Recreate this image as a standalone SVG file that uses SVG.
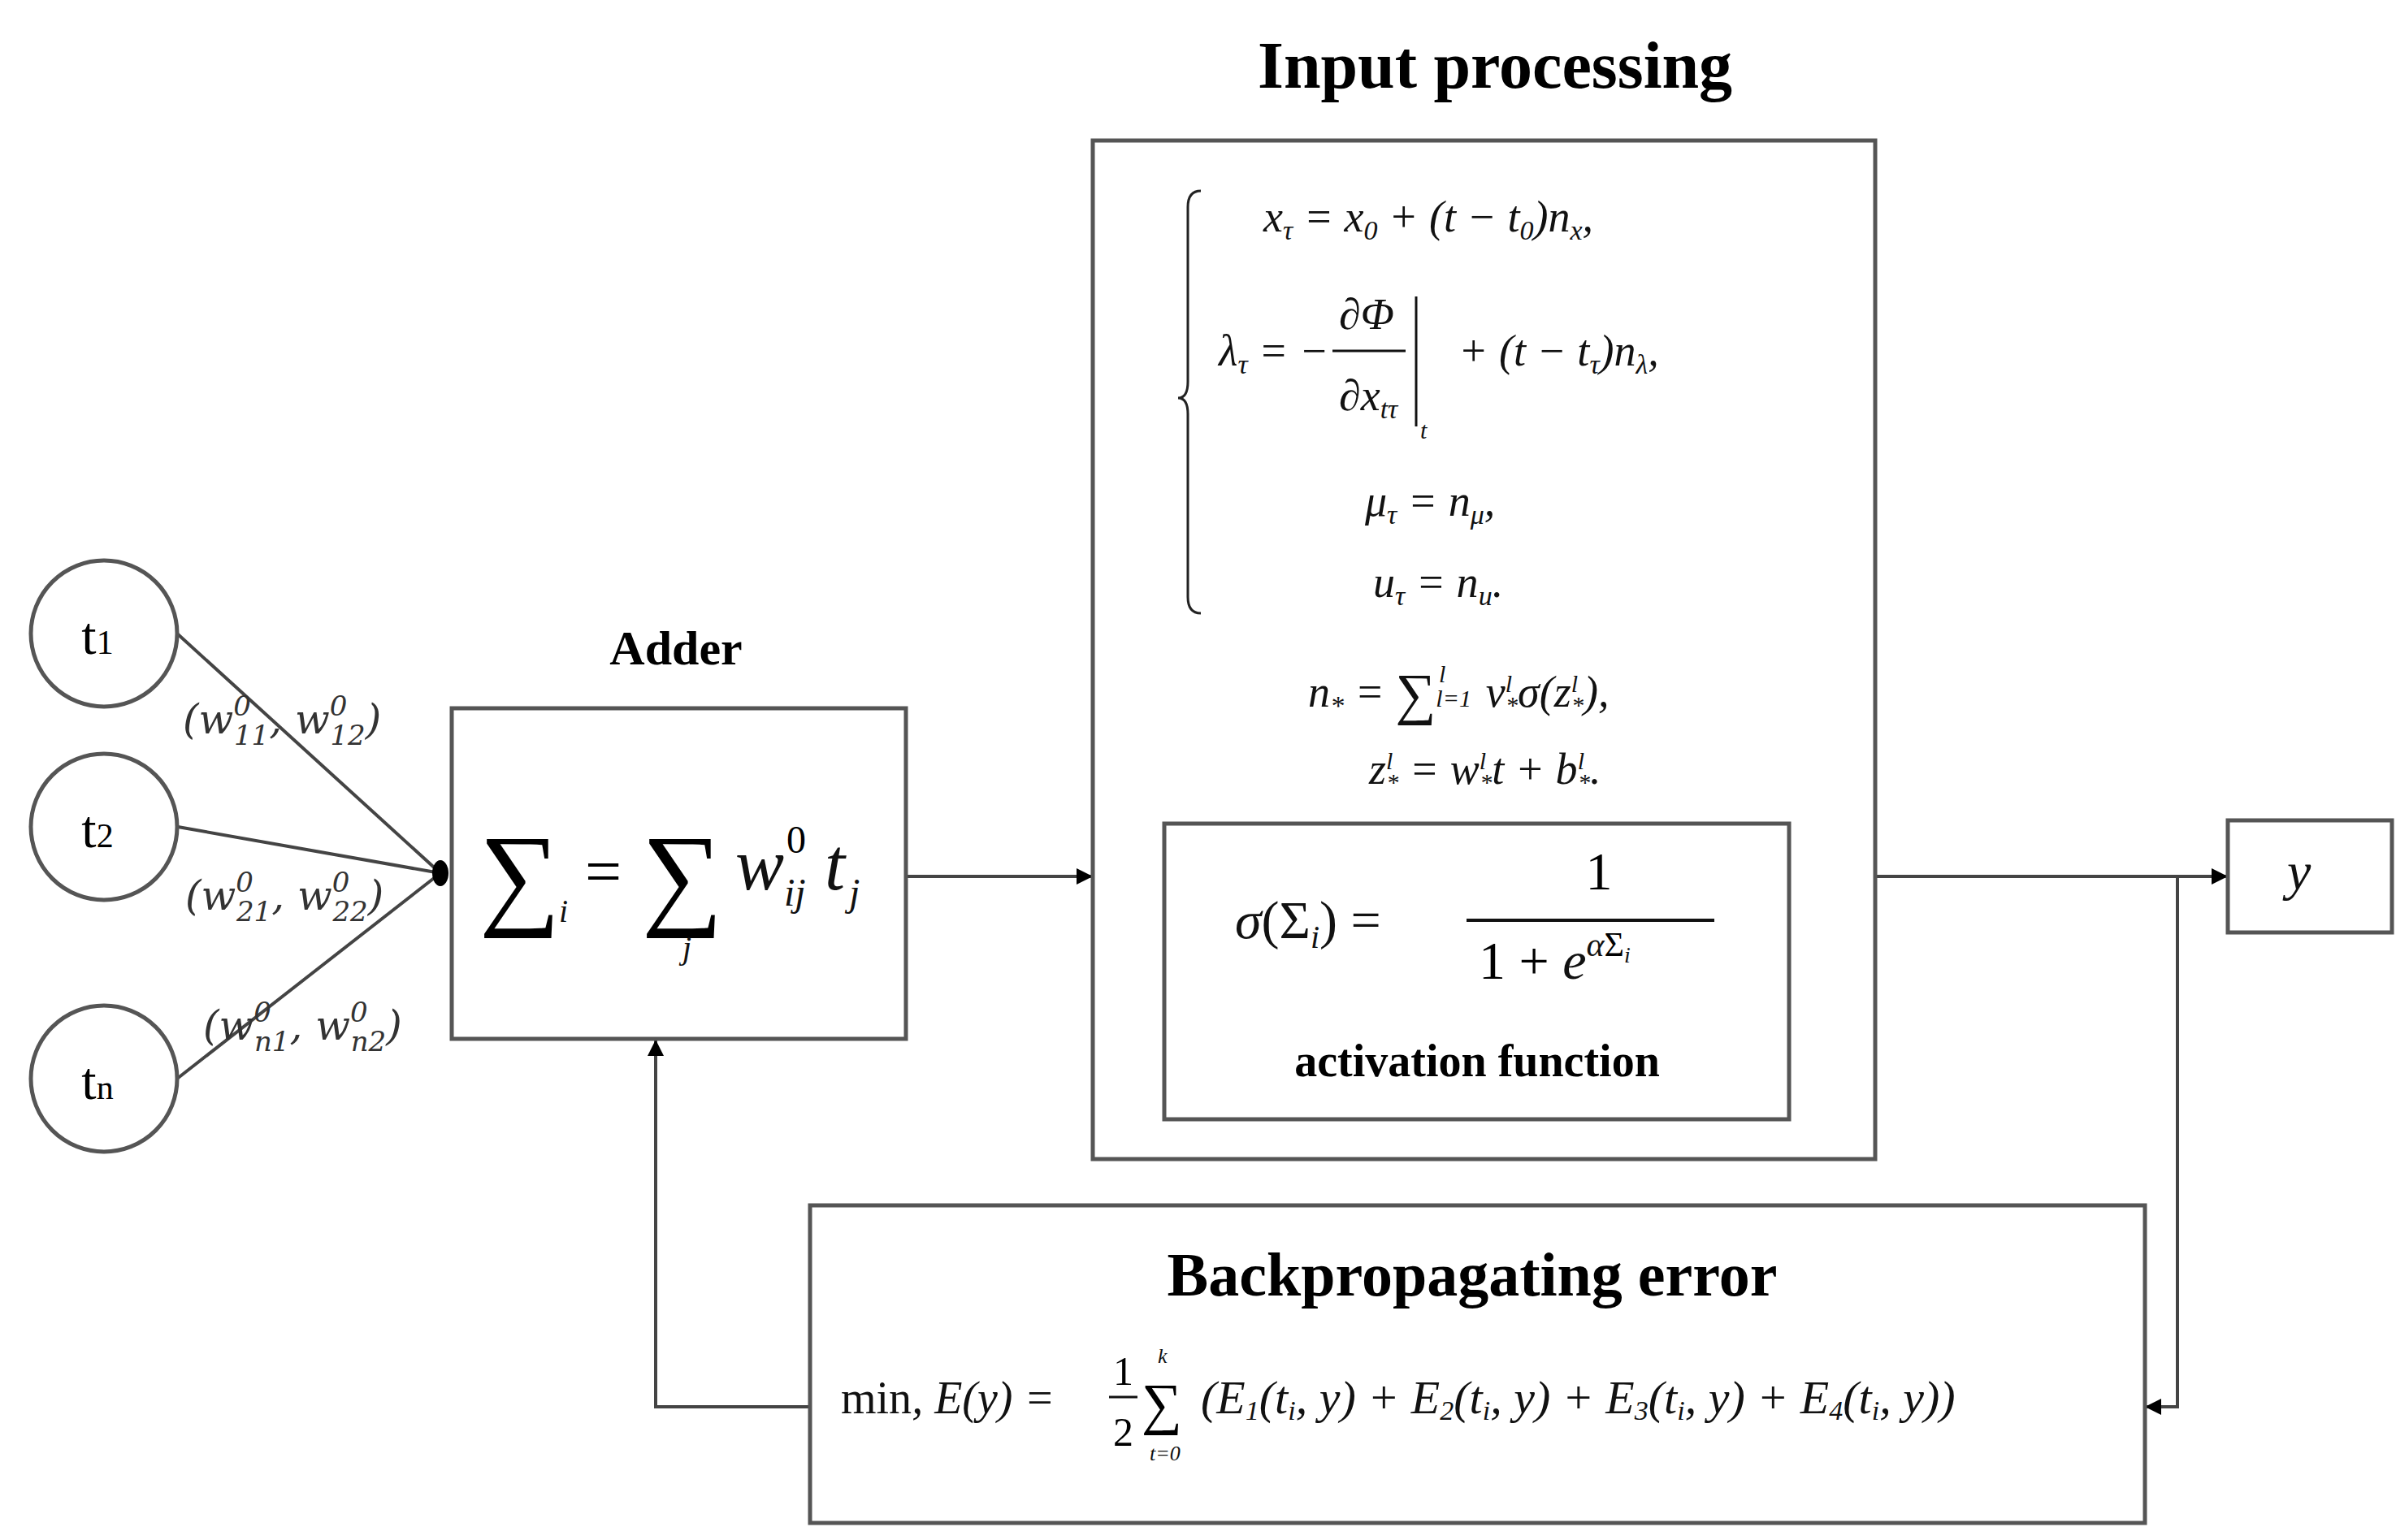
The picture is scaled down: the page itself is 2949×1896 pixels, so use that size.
<svg xmlns="http://www.w3.org/2000/svg" width="2949" height="1896" viewBox="0 0 2949 1896">
<style>
.b{fill:#fff;stroke:#555;stroke-width:5}
.c{fill:none;stroke:#444;stroke-width:4}
.t{font-family:"Liberation Serif",serif;fill:#000}
.bd{font-weight:bold}
.m{font-family:"Liberation Serif",serif;font-style:italic;fill:#111}
.w{font-family:"DejaVu Serif",serif;font-style:italic;fill:#333}
</style>
<defs><marker id="a" viewBox="0 0 10 10" refX="10" refY="5" markerWidth="26" markerHeight="20" orient="auto" markerUnits="userSpaceOnUse"><path d="M0,0L10,5L0,10z" fill="#000"/></marker></defs>
<rect width="2949" height="1896" fill="#fff"/>
<g id="connectors">
<line class="c" x1="218" y1="780" x2="542" y2="1075"/>
<line class="c" x1="219" y1="1018" x2="542" y2="1075"/>
<line class="c" x1="218" y1="1328" x2="542" y2="1075"/>
<ellipse cx="542" cy="1075" rx="10" ry="16" fill="#000"/>
<path class="c" d="M1115,1079H1345" marker-end="url(#a)"/>
<path class="c" d="M2308,1079H2742" marker-end="url(#a)"/>
<path class="c" d="M2680,1079V1732H2640" marker-end="url(#a)"/>
<path class="c" d="M997,1732H807V1280" marker-end="url(#a)"/>
</g>
<g id="t1"><circle class="b" cx="128" cy="780" r="90" stroke-width="4"/><text class="t" x="120" y="805" font-size="66" text-anchor="middle">t<tspan font-size="42">1</tspan></text></g>
<g id="t2"><circle class="b" cx="128" cy="1018" r="90" stroke-width="4"/><text class="t" x="120" y="1043" font-size="66" text-anchor="middle">t<tspan font-size="42">2</tspan></text></g>
<g id="tn"><circle class="b" cx="128" cy="1328" r="90" stroke-width="4"/><text class="t" x="120" y="1353" font-size="66" text-anchor="middle">t<tspan font-size="42">n</tspan></text></g>
<g id="weights" class="w" font-size="50">
<text x="225" y="903">(w<tspan font-size="34" dy="-22">0</tspan><tspan font-size="34" dx="-21" dy="36">11</tspan><tspan dy="-14">, w</tspan><tspan font-size="34" dy="-22">0</tspan><tspan font-size="34" dx="-21" dy="36">12</tspan><tspan dy="-14">)</tspan></text>
<text x="228" y="1120">(w<tspan font-size="34" dy="-22">0</tspan><tspan font-size="34" dx="-21" dy="36">21</tspan><tspan dy="-14">, w</tspan><tspan font-size="34" dy="-22">0</tspan><tspan font-size="34" dx="-21" dy="36">22</tspan><tspan dy="-14">)</tspan></text>
<text x="250" y="1280">(w<tspan font-size="34" dy="-22">0</tspan><tspan font-size="34" dx="-21" dy="36">n1</tspan><tspan dy="-14">, w</tspan><tspan font-size="34" dy="-22">0</tspan><tspan font-size="34" dx="-21" dy="36">n2</tspan><tspan dy="-14">)</tspan></text>
</g>
<g id="adder">
<text class="t bd" x="832" y="818" font-size="60" text-anchor="middle">Adder</text>
<rect class="b" x="556" y="872" width="559" height="407"/>
<text class="t" x="590" y="1125" font-size="140">∑</text>
<text class="m" x="688" y="1135" font-size="40">i</text>
<text class="t" x="720" y="1100" font-size="80">=</text>
<text class="t" x="790" y="1125" font-size="140">∑</text>
<text class="m" x="840" y="1180" font-size="40">j</text>
<text class="m" x="905" y="1095" font-size="90">w</text>
<text class="t" x="968" y="1050" font-size="48">0</text>
<text class="m" x="965" y="1115" font-size="48">ij</text>
<text class="m" x="1015" y="1095" font-size="90">t</text>
<text class="m" x="1045" y="1115" font-size="48">j</text>
</g>
<g id="input">
<text class="t bd" x="1840" y="108" font-size="82" text-anchor="middle">Input processing</text>
<rect class="b" x="1345" y="173" width="963" height="1254"/>
<path d="M1478,235Q1462,235 1462,255V470Q1462,490 1450,490Q1462,490 1462,510V735Q1462,755 1478,755" fill="none" stroke="#222" stroke-width="3"/>
<g class="m" font-size="54">
<text x="1555" y="285">x<tspan font-size="34" dy="10">τ</tspan><tspan dy="-10"> = x</tspan><tspan font-size="34" dy="10">0</tspan><tspan dy="-10"> + (t − t</tspan><tspan font-size="34" dy="10">0</tspan><tspan dy="-10">)n</tspan><tspan font-size="34" dy="10">x</tspan><tspan dy="-10">,</tspan></text>
<text x="1500" y="450">λ<tspan font-size="34" dy="10">τ</tspan><tspan dy="-10"> = −</tspan></text>
<text x="1648" y="405">∂Φ</text>
<line x1="1640" y1="432" x2="1730" y2="432" stroke="#111" stroke-width="3"/>
<text x="1648" y="505">∂x<tspan font-size="34" dy="10">tτ</tspan></text>
<line x1="1743" y1="365" x2="1743" y2="525" stroke="#111" stroke-width="3"/>
<text x="1748" y="540" font-size="30">t</text>
<text x="1795" y="450">+ (t − t<tspan font-size="34" dy="10">τ</tspan><tspan dy="-10">)n</tspan><tspan font-size="34" dy="10">λ</tspan><tspan dy="-10">,</tspan></text>
<text x="1680" y="635">μ<tspan font-size="34" dy="10">τ</tspan><tspan dy="-10"> = n</tspan><tspan font-size="34" dy="10">μ</tspan><tspan dy="-10">,</tspan></text>
<text x="1690" y="735">u<tspan font-size="34" dy="10">τ</tspan><tspan dy="-10"> = n</tspan><tspan font-size="34" dy="10">u</tspan><tspan dy="-10">.</tspan></text>
<text x="1610" y="870">n<tspan font-size="34" dy="10">*</tspan><tspan dy="-10"> = </tspan><tspan font-style="normal" font-size="70" dy="8">∑</tspan><tspan font-size="30" dy="-8">l=1</tspan><tspan font-size="30" dx="-40" dy="-30">l</tspan><tspan dx="36" dy="30"> v</tspan><tspan font-size="30" dy="-18">l</tspan><tspan font-size="30" dx="-8" dy="26">*</tspan><tspan dy="-8">σ(z</tspan><tspan font-size="30" dy="-18">l</tspan><tspan font-size="30" dx="-8" dy="26">*</tspan><tspan dy="-8">),</tspan></text>
<text x="1685" y="965">z<tspan font-size="30" dy="-18">l</tspan><tspan font-size="30" dx="-8" dy="26">*</tspan><tspan dy="-8"> = w</tspan><tspan font-size="30" dy="-18">l</tspan><tspan font-size="30" dx="-8" dy="26">*</tspan><tspan dy="-8">t + b</tspan><tspan font-size="30" dy="-18">l</tspan><tspan font-size="30" dx="-8" dy="26">*</tspan><tspan dy="-8">.</tspan></text>
</g>
</g>
<g id="activation">
<rect class="b" x="1433" y="1014" width="769" height="364"/>
<text class="m" x="1520" y="1155" font-size="66">σ<tspan font-style="normal">(Σ</tspan><tspan font-size="40" dy="12">i</tspan><tspan font-style="normal" dy="-12">) =</tspan></text>
<text class="t" x="1968" y="1095" font-size="66" text-anchor="middle">1</text>
<line x1="1805" y1="1133" x2="2110" y2="1133" stroke="#111" stroke-width="4"/>
<text class="t" x="1820" y="1205" font-size="66">1 + <tspan class="m">e</tspan><tspan class="m" font-size="42" dy="-28">α</tspan><tspan font-size="42">Σ</tspan><tspan class="m" font-size="28" dy="8">i</tspan></text>
<text class="t bd" x="1818" y="1325" font-size="56" text-anchor="middle">activation function</text>
</g>
<g id="y"><rect class="b" x="2742" y="1010" width="202" height="138"/><text class="m" x="2815" y="1095" font-size="66">y</text></g>
<g id="backprop">
<rect class="b" x="997" y="1484" width="1643" height="391"/>
<text class="t bd" x="1812" y="1595" font-size="76" text-anchor="middle">Backpropagating error</text>
<text class="m" x="1035" y="1740" font-size="56"><tspan font-style="normal">min</tspan>, E(y) =</text>
<text class="t" x="1370" y="1705" font-size="50">1</text>
<line x1="1365" y1="1720" x2="1400" y2="1720" stroke="#111" stroke-width="3"/>
<text class="t" x="1370" y="1780" font-size="50">2</text>
<text class="t" x="1405" y="1752" font-size="70">∑</text>
<text class="m" x="1425" y="1678" font-size="26">k</text>
<text class="m" x="1415" y="1798" font-size="26">t=0</text>
<text class="m" x="1478" y="1740" font-size="58">(E<tspan font-size="34" dy="8">1</tspan><tspan dy="-8">(t</tspan><tspan font-size="34" dy="8">i</tspan><tspan dy="-8">, y) + E</tspan><tspan font-size="34" dy="8">2</tspan><tspan dy="-8">(t</tspan><tspan font-size="34" dy="8">i</tspan><tspan dy="-8">, y) + E</tspan><tspan font-size="34" dy="8">3</tspan><tspan dy="-8">(t</tspan><tspan font-size="34" dy="8">i</tspan><tspan dy="-8">, y) + E</tspan><tspan font-size="34" dy="8">4</tspan><tspan dy="-8">(t</tspan><tspan font-size="34" dy="8">i</tspan><tspan dy="-8">, y))</tspan></text>
</g>
</svg>
